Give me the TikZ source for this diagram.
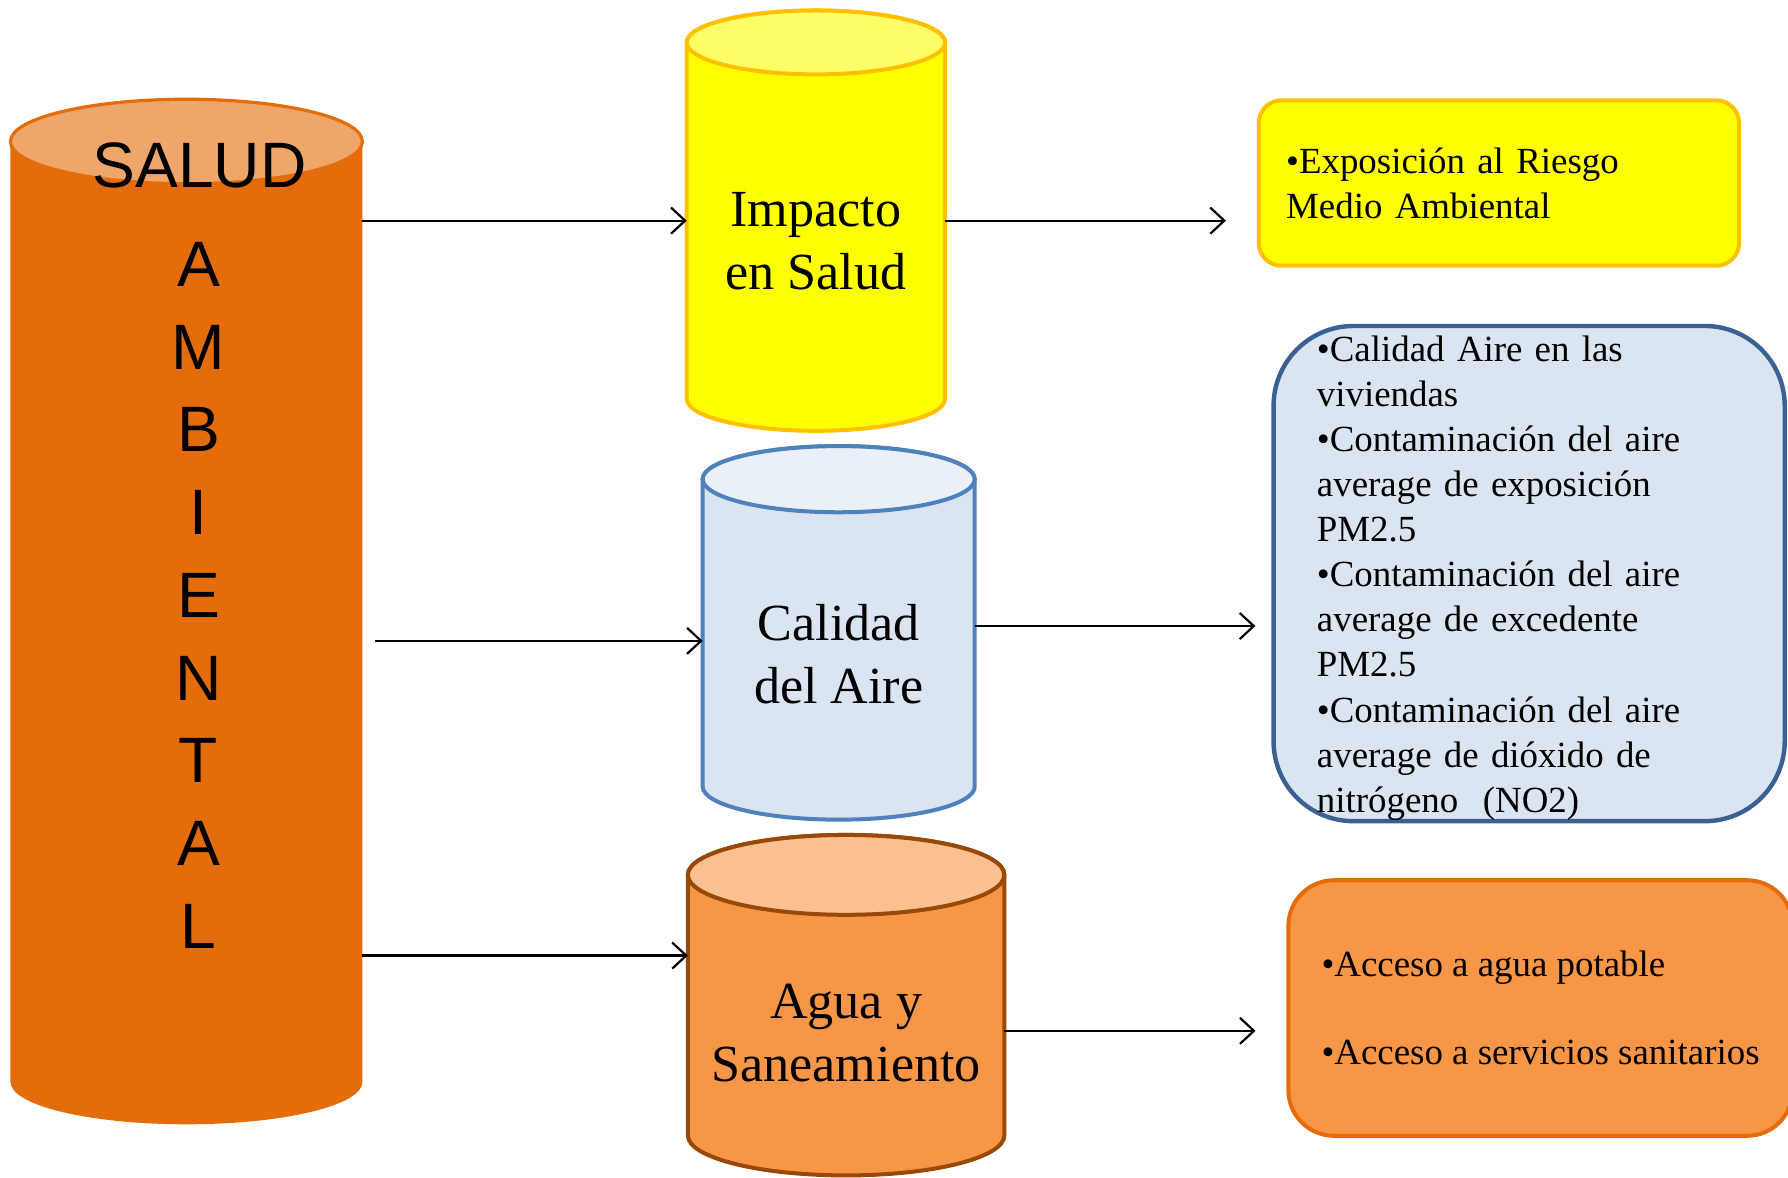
\documentclass[tikz,border=0pt]{standalone}
\usepackage{fontspec}
\setmainfont{Liberation Serif}
\newfontfamily\arialfont{Liberation Sans}
\usetikzlibrary{positioning,calc,arrows.meta}

\definecolor{naranjaosc}{HTML}{E46C0A}
\definecolor{naranjatapa}{HTML}{EFA66A}
\definecolor{amarillo}{HTML}{FFFF00}
\definecolor{amarillotapa}{HTML}{FFFF66}
\definecolor{ambar}{HTML}{FFC000}
\definecolor{azulclaro}{HTML}{DBE5F1}
\definecolor{azultapa}{HTML}{EAF0F8}
\definecolor{azulborde}{HTML}{4F81BD}
\definecolor{azulcaja}{HTML}{3B6194}
\definecolor{naranja}{HTML}{F79646}
\definecolor{naranjaclaro}{HTML}{FAC090}
\definecolor{marron}{HTML}{984807}

% cilindro dibujado sobre un nodo: nodo, radio de la tapa, estilo cuerpo, estilo tapa
\newcommand{\tambor}[4]{%
  \path[#3] let \p1=(#1.north west), \p2=(#1.south east), \n1={(\x2-\x1)/2} in
    (\x1,{\y1-#2}) -- (\x1,{\y2+#2})
    arc[start angle=180, end angle=360, x radius=\n1, y radius=#2]
    -- (\x2,{\y1-#2})
    arc[start angle=0, end angle=180, x radius=\n1, y radius=#2] -- cycle;
  \path[#4] let \p1=(#1.north west), \p2=(#1.south east), \n1={(\x2-\x1)/2} in
    ({\x1+\n1},{\y1-#2}) ellipse[x radius=\n1, y radius=#2];
}

\tikzset{
  cuerpo/.style={rectangle, inner sep=0pt},
  textocil/.style={align=center, inner sep=0pt, font=\fontsize{13}{15.6}\selectfont},
  caja/.style={line width=0.85pt, align=left, inner ysep=0pt,
    font=\fontsize{9.2}{11.24}\selectfont},
}

\begin{document}
\begin{tikzpicture}[x=0.01cm, y=-0.01cm, >={Straight Barb[length=3.5pt,width=6.5pt]}]
  \useasboundingbox (0,0) rectangle (1568,1033);

  % cilindros
  \node[cuerpo, minimum width=3.07cm, minimum height=8.97cm] (salud) at (163.5,536.5) {};
  \node[cuerpo, minimum width=2.25cm, minimum height=3.67cm] (impacto) at (715.5,193.5) {};
  \node[cuerpo, minimum width=2.37cm, minimum height=3.26cm] (aire) at (735.5,555) {};
  \node[cuerpo, minimum width=2.76cm, minimum height=2.97cm] (agua) at (742,881.5) {};

  \tambor{salud}{0.37cm}{fill=naranjaosc}{fill=naranjatapa, draw=naranjaosc, line width=0.8pt}
  \tambor{impacto}{0.28cm}{fill=amarillo, draw=ambar, line width=1pt}{fill=amarillotapa, draw=ambar, line width=1pt}
  \tambor{aire}{0.29cm}{fill=azulclaro, draw=azulborde, line width=1pt}{fill=azultapa, draw=azulborde, line width=1pt}
  \tambor{agua}{0.35cm}{fill=naranja, draw=marron, line width=1pt}{fill=naranjaclaro, draw=marron, line width=1pt}

  \node[font=\arialfont\fontsize{16}{19}\selectfont] (titulo) at (175,145) {SALUD};
  \node[font=\arialfont\fontsize{16}{20.63}\selectfont, align=center] (letras) at (174,522)
    {A\\M\\B\\I\\E\\N\\T\\A\\L};
  \node[textocil] (txtimpacto) at (715.5,211.5) {Impacto\\en Salud};
  \node[textocil] (txtaire) at (735.5,573.5) {Calidad\\del Aire};
  \node[textocil] (txtagua) at (742,906) {Agua y\\Saneamiento};

  % cajas
  \node[caja, draw=ambar, fill=amarillo, line width=1pt, rounded corners=0.2cm, minimum height=1.45cm,
    text width=3.73cm, inner xsep=0.24cm] (riesgo) at (1314.5,160.5)
    {•Exposición al Riesgo\\Medio Ambiental};
  \node[caja, draw=azulcaja, fill=azulclaro, line width=1.1pt, rounded corners=0.7cm,
    minimum height=4.34cm, text width=3.72cm, inner xsep=0.38cm] (contaminacion) at (1341,503)
    {\rule{0pt}{8.6pt}•Calidad Aire en las\\viviendas\\•Contaminación del aire\\average de exposición\\PM2.5\\
     •Contaminación del aire\\average de excedente\\PM2.5\\•Contaminación del aire\\
     average de dióxido de\\nitrógeno\ \ (NO2)};
  \node[caja, draw=naranjaosc, fill=naranja, line width=1pt, rounded corners=0.4cm, minimum height=2.24cm,
    minimum width=4.42cm] (acceso) at (1351,884)
    {•Acceso a agua potable\\[10.7pt]•Acceso a servicios sanitarios};

  % flechas
  \coordinate (entradaaire) at ($(aire.west)+(0,7)$);
  \coordinate (entradaagua) at ($(agua.west)+(0,-43.5)$);
  \coordinate (salidaaire) at ($(aire.east)+(0,-6)$);
  \coordinate (salidaagua) at ($(agua.east)+(0,22.5)$);
  \draw[->, line width=0.55pt] (salud.east |- impacto.west) -- (impacto.west);
  \draw[->, line width=0.55pt, shorten <=0.11cm] (salud.east |- entradaaire) -- (entradaaire);
  \draw[->, line width=0.55pt] (salud.east |- entradaagua) -- (entradaagua);
  \draw[->, line width=0.55pt, shorten >=0.27cm] (impacto.east) -- (impacto.east -| riesgo.west);
  \draw[->, line width=0.55pt, shorten >=0.14cm] (salidaaire) -- (salidaaire -| contaminacion.west);
  \draw[->, line width=0.55pt, shorten >=0.27cm] (salidaagua) -- (salidaagua -| acceso.west);
\end{tikzpicture}
\end{document}
